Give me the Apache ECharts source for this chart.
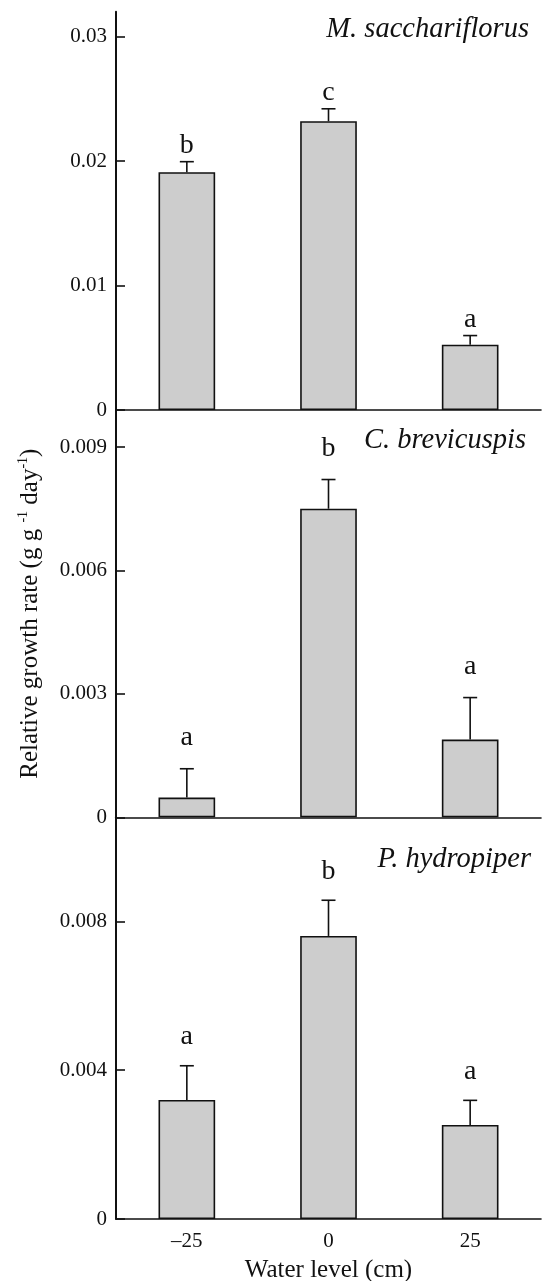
<!DOCTYPE html>
<html>
<head>
<meta charset="utf-8">
<script src="https://cdn.jsdelivr.net/npm/echarts@6/dist/echarts.min.js"></script>
<style>
html,body{margin:0;padding:0;background:#fff;}
#chart{width:543px;height:1281px;}
</style>
</head>
<body>
<div id="chart"></div>
<script>
// ---- data ----
const categories = ['\u201325', '0', '25'];

const msName = 'M. sacchariflorus';
const msMean = [0.0191, 0.0232, 0.00525];
const msSE = [0.00085, 0.0010, 0.00073];
const msLetters = ['b', 'c', 'a'];
const msTicks = [0, 0.01, 0.02, 0.03];
const msTickLabels = ['0', '0.01', '0.02', '0.03'];
const msMax = 0.032;

const cbName = 'C. brevicuspis';
const cbMean = [0.00048, 0.0075, 0.00189];
const cbSE = [0.0007, 0.00071, 0.00102];
const cbLetters = ['a', 'b', 'a'];
const cbTicks = [0, 0.003, 0.006, 0.009];
const cbTickLabels = ['0', '0.003', '0.006', '0.009'];
const cbMax = 0.0099;

const phName = 'P. hydropiper';
const phMean = [0.0032, 0.00761, 0.00253];
const phSE = [0.00092, 0.00096, 0.00066];
const phLetters = ['a', 'b', 'a'];
const phTicks = [0, 0.004, 0.008];
const phTickLabels = ['0', '0.004', '0.008'];
const phMax = 0.0108;

const yTitle = 'Relative growth rate (g g {sup|-1} day{sup|-1})';
const xTitle = 'Water level (cm)';

// ---- chart ----
const FONT = "'Liberation Serif', 'Times New Roman', serif";
const INK = '#111';
const chart = echarts.init(document.getElementById('chart'), null, {renderer: 'canvas'});

const panels = [
  {name: msName, mean: msMean, se: msSE, letters: msLetters, ticks: msTicks, labels: msTickLabels, max: msMax,
   top: 11.7, height: 398.3, off: 16, titleTop: 10, titleRight: 9},
  {name: cbName, mean: cbMean, se: cbSE, letters: cbLetters, ticks: cbTicks, labels: cbTickLabels, max: cbMax,
   top: 410, height: 407.3, off: 31, titleTop: 421, titleRight: 12},
  {name: phName, mean: phMean, se: phSE, letters: phLetters, ticks: phTicks, labels: phTickLabels, max: phMax,
   top: 817.3, height: 401.7, off: 29, titleTop: 840, titleRight: 7}
];

function fmt(labels, ticks) {
  return function (v) {
    for (let i = 0; i < ticks.length; i++) if (Math.abs(ticks[i] - v) < 1e-9) return labels[i];
    return '';
  };
}

function errRender(se, letters, off) {
  return function (params, api) {
    const i = params.dataIndex;
    const m = api.value(1);
    const base = api.coord([api.value(0), m]);
    const top = api.coord([api.value(0), m + se[i]]);
    const cap = 7;
    const ls = {stroke: INK, lineWidth: 1.6};
    return {
      type: 'group',
      children: [
        {type: 'line', shape: {x1: base[0], y1: base[1], x2: top[0], y2: top[1]}, style: ls},
        {type: 'line', shape: {x1: top[0] - cap, y1: top[1], x2: top[0] + cap, y2: top[1]}, style: ls},
        {type: 'text', style: {text: letters[i], x: top[0], y: top[1] - off, align: 'center', verticalAlign: 'middle',
          fontSize: 28, fontFamily: FONT, fill: INK}}
      ]
    };
  };
}

const grid = [], xAxis = [], yAxis = [], series = [], title = [];
panels.forEach((p, k) => {
  const last = k === panels.length - 1;
  grid.push({left: 116, right: 2, top: p.top, height: p.height, outerBoundsMode: 'none', containLabel: false});
  title.push({text: p.name, right: p.titleRight, top: p.titleTop,
    textStyle: {fontFamily: FONT, fontStyle: 'italic', fontWeight: 'normal', fontSize: 28.5, color: INK}});
  xAxis.push({
    type: 'category', gridIndex: k, data: categories,
    axisLine: {lineStyle: {color: INK, width: 1.6}},
    axisTick: {show: false},
    axisLabel: {show: last, fontFamily: FONT, fontSize: 21, color: INK, margin: 12},
    name: last ? xTitle : '', nameLocation: 'middle', nameGap: 39,
    nameTextStyle: {fontFamily: FONT, fontSize: 25, color: INK}
  });
  yAxis.push({
    type: 'value', gridIndex: k, min: 0, max: p.max,
    splitLine: {show: false},
    axisLine: {show: true, lineStyle: {color: INK, width: 2}},
    axisTick: {show: true, inside: true, length: 9, customValues: p.ticks, lineStyle: {color: INK, width: 1.6}},
    axisLabel: {customValues: p.ticks, formatter: fmt(p.labels, p.ticks), fontFamily: FONT, fontSize: 21, color: INK, margin: 9},
    name: k === 1 ? yTitle : '', nameLocation: 'middle', nameGap: 72,
    nameTextStyle: {fontFamily: FONT, fontSize: 25, color: INK, lineHeight: 28,
      rich: {sup: {fontFamily: FONT, fontSize: 14, color: INK, verticalAlign: 'top', lineHeight: 14}}}
  });
  series.push({
    type: 'bar', xAxisIndex: k, yAxisIndex: k, data: p.mean, barWidth: '40%',
    itemStyle: {color: '#cdcdcd', borderColor: INK, borderWidth: 1.6},
    silent: true, z: 2
  });
  series.push({
    type: 'custom', xAxisIndex: k, yAxisIndex: k, data: p.mean.map((v, i) => [i, v]),
    renderItem: errRender(p.se, p.letters, p.off), z: 3, silent: true
  });
});

chart.setOption({
  backgroundColor: '#fff',
  animation: false,
  title: title,
  grid: grid,
  xAxis: xAxis,
  yAxis: yAxis,
  series: series
});
</script>
</body>
</html>
